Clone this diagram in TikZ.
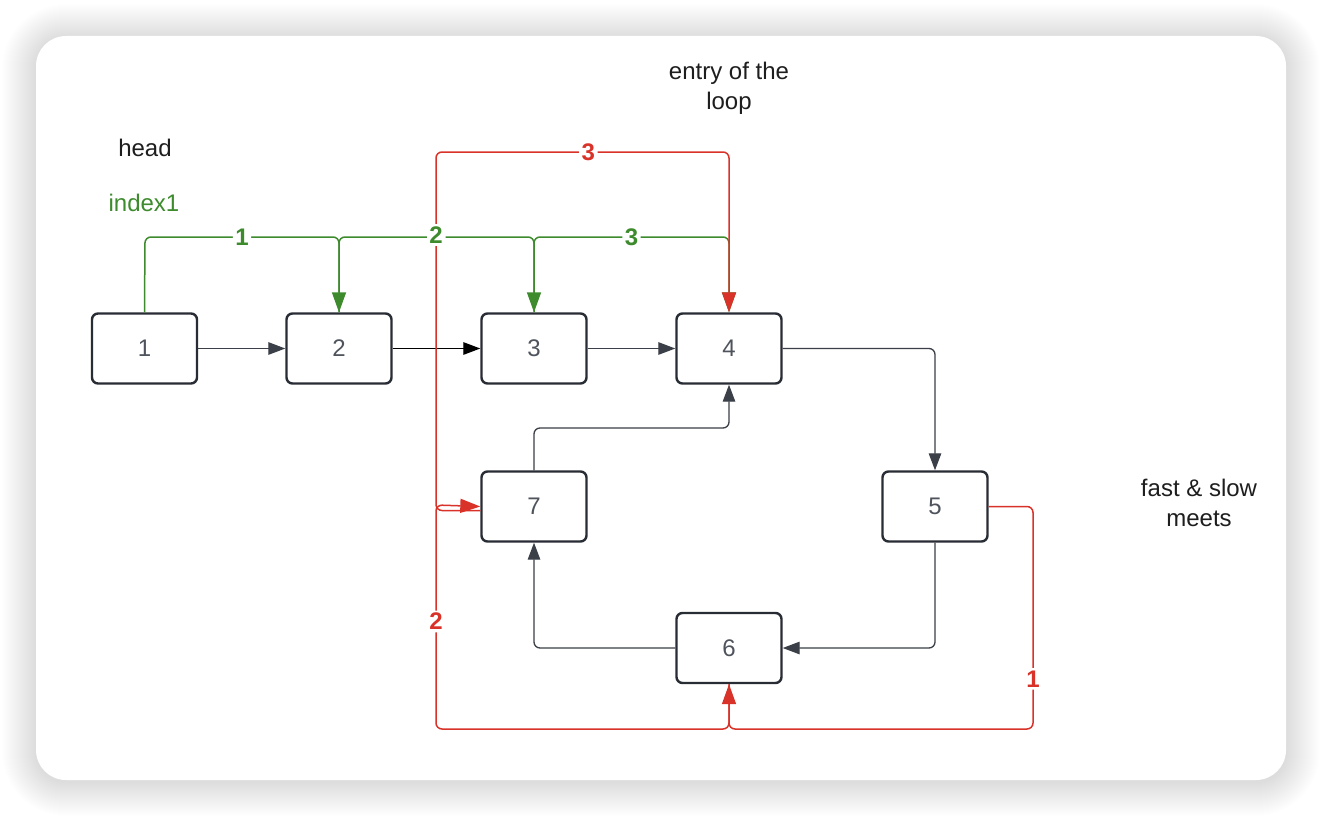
\documentclass[tikz,border=0pt]{standalone}
\usepackage{fontspec}
\setmainfont{Liberation Sans}
\usetikzlibrary{arrows.meta}
\definecolor{gline}{RGB}{61,139,45}
\definecolor{rline}{RGB}{217,50,40}
\definecolor{boxline}{RGB}{40,44,52}
\definecolor{conn}{RGB}{58,63,72}
\definecolor{numtext}{RGB}{78,83,92}
\definecolor{txt}{RGB}{30,30,30}
\tikzset{
  box/.style={draw=boxline, line width=2.4pt, rounded corners=6pt, minimum width=105pt, minimum height=70pt, inner sep=0pt, fill=white, text=numtext, font=\fontsize{24}{24}\selectfont},
  tip/.style={-{Triangle[length=17pt,width=12.5pt]}},
  bigtip/.style={-{Triangle[length=20pt,width=14pt]}},
  conline/.style={draw=conn, line width=1.3pt, rounded corners=6pt, tip},
  gpath/.style={draw=gline, line width=1.5pt, rounded corners=6pt, bigtip},
  rpath/.style={draw=rline, line width=1.5pt, rounded corners=6pt, bigtip},
  glabel/.style={fill=white, inner sep=2.5pt, text=gline, font=\bfseries\fontsize{24}{24}\selectfont},
  rlabel/.style={fill=white, inner sep=2.5pt, text=rline, font=\bfseries\fontsize{24}{24}\selectfont},
  note/.style={text=txt, align=center, font=\fontsize{24}{30}\selectfont, inner sep=0pt},
}
\begin{document}
\begin{tikzpicture}[x=1pt,y=-1pt]
\useasboundingbox (0,0) rectangle (1322,816);
\fill[white] (0,0) rectangle (1322,816);
\foreach \k in {1,...,34} {
  \fill[black, opacity=0.0038, rounded corners={30pt+\k pt}] ({36-\k},{36-\k+2}) rectangle ({1286+\k},{780+\k+2});
}
\fill[white, rounded corners=30pt] (36,36) rectangle (1286,780);

% nodes
\node[box] (n1) at (144.5,348.5) {1};
\node[box] (n2) at (339,348.5) {2};
\node[box] (n3) at (534,348.5) {3};
\node[box] (n4) at (729,348.5) {4};
\node[box] (n7) at (534,506.5) {7};
\node[box] (n5) at (935,506.5) {5};
\node[box] (n6) at (729,648) {6};

% texts
\node[note] (head) at (145,148) {head};
\node[note, text=gline] (idx) at (144,203) {index1};
\node[note] (entry) at (729,88) {entry of the\\loop};
\node[note] (meet) at (1199,503) {fast \& slow\\meets};

% list connectors
\draw[conline] (n1.east) -- (n2.west);
\draw[conline, draw=black] (n2.east) -- (n3.west);
\draw[conline] (n3.east) -- (n4.west);
\draw[conline] (n4.east) -- (935,348.5) -- (n5.north);
\draw[conline] (n5.south) -- (935,648) -- (n6.east);
\draw[conline] (n6.west) -- (534,648) -- (n7.south);
\draw[conline] (n7.north) -- (534,428) -- (729,428) -- (n4.south);

% green (index1)
\draw[gpath] (n3.north) -- (534,237) -- node[glabel]{3} (729,237) -- (n4.north);
\draw[gpath] (n2.north) -- (339,237) -- node[glabel]{2} (534,237) -- (n3.north);
\draw[gpath] (n1.north) -- (145,237) -- node[glabel]{1} (339,237) -- (n2.north);

% red (fast / slow)
\draw[rpath] (n5.east) -- (1033,506.5) -- node[rlabel, pos=0.775]{1} (1033,729) -- (729,729) -- (n6.south);
\draw[rpath] (n6.south) -- (729,729) -- (436,729) -- node[rlabel, pos=0.48]{2} (436,505) -- (n7.west);
\draw[rpath] ([yshift=-4pt]n7.west) -- (436,510.5) -- (436,152) -- node[rlabel, pos=0.52]{3} (729,152) -- (n4.north);

% green label over red line
\node[glabel] at (436,235) {2};
\end{tikzpicture}
\end{document}
